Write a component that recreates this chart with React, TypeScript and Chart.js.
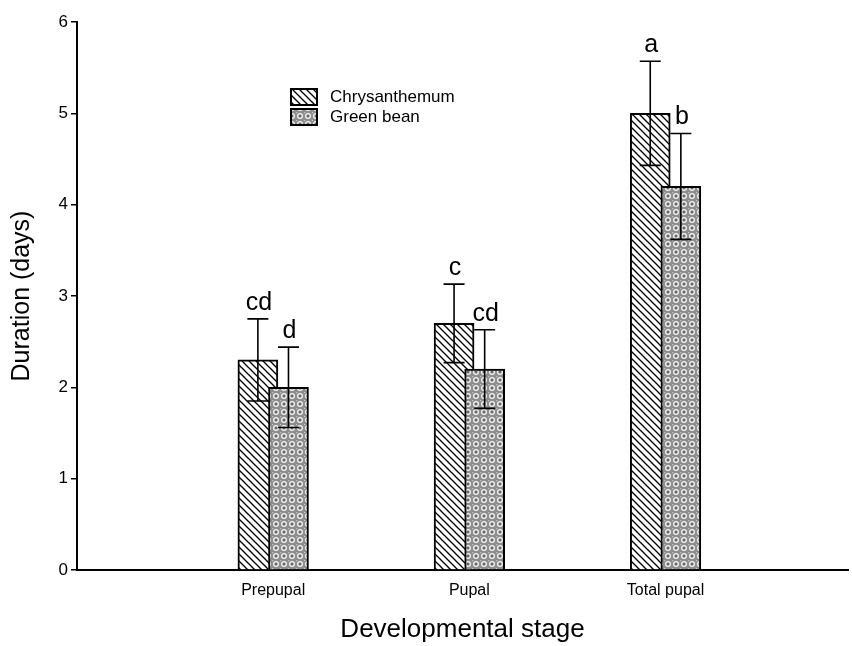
import React, { useEffect, useRef } from 'react';
import { Chart, registerables } from 'chart.js';

Chart.register(...registerables);

// Developmental stages and host-plant series (mean ± SD, in days)
const stages = ['Prepupal', 'Pupal', 'Total pupal'];
const seriesNames = ['Chrysanthemum', 'Green bean'];
const chrysMean = [2.3, 2.7, 5.0];
const chrysSD = [0.45, 0.43, 0.57];
const beanMean = [2.0, 2.2, 4.2];
const beanSD = [0.44, 0.43, 0.58];
const chrysLetters = ['cd', 'c', 'a'];
const beanLetters = ['d', 'cd', 'b'];
const yTicks = [0, 1, 2, 3, 4, 5, 6];

const FONT = '"Liberation Sans", Arial, Helvetica, sans-serif';
const OFFSET = 0.078; // half-spacing between the two overlapping bars, in category units

function hatchPattern(ctx: CanvasRenderingContext2D) {
  const s = 7;
  const c = document.createElement('canvas');
  c.width = s;
  c.height = s;
  const g = c.getContext('2d')!;
  g.fillStyle = '#ffffff';
  g.fillRect(0, 0, s, s);
  g.strokeStyle = '#000000';
  g.lineWidth = 1.3;
  for (const o of [-s, 0, s]) {
    g.beginPath();
    g.moveTo(o - 1, -1);
    g.lineTo(o + s + 1, s + 1);
    g.stroke();
  }
  return ctx.createPattern(c, 'repeat')!;
}

function dotPattern(ctx: CanvasRenderingContext2D) {
  const s = 8;
  const c = document.createElement('canvas');
  c.width = s;
  c.height = s;
  const g = c.getContext('2d')!;
  g.fillStyle = '#8e8e8e';
  g.fillRect(0, 0, s, s);
  g.strokeStyle = '#f2f2f2';
  g.lineWidth = 1.2;
  g.beginPath();
  g.arc(s / 2, s / 2, 2.4, 0, Math.PI * 2);
  g.stroke();
  g.fillStyle = '#4a4a4a';
  g.fillRect(s / 2 - 0.75, s / 2 - 0.75, 1.5, 1.5);
  g.fillStyle = '#cfcfcf';
  g.fillRect(0, 0, 1, 1);
  return ctx.createPattern(c, 'repeat')!;
}

export default function App() {
  const canvasRef = useRef<HTMLCanvasElement | null>(null);

  useEffect(() => {
    const canvas = canvasRef.current;
    if (!canvas) return;
    const ctx = canvas.getContext('2d')!;
    const hatch = hatchPattern(ctx);
    const dots = dotPattern(ctx);
    const fills = [hatch, dots];
    const sds = [chrysSD, beanSD];
    const means = [chrysMean, beanMean];
    const letters = [chrysLetters, beanLetters];

    const errorBars = {
      id: 'errorBars',
      afterDatasetsDraw(chart: any) {
        const c = chart.ctx as CanvasRenderingContext2D;
        const yScale = chart.scales.y;
        c.save();
        c.strokeStyle = '#000';
        c.lineWidth = 1.6;
        c.fillStyle = '#000';
        c.font = `25px ${FONT}`;
        c.textAlign = 'center';
        c.textBaseline = 'alphabetic';
        for (let d = 0; d < 2; d++) {
          const meta = chart.getDatasetMeta(d);
          meta.data.forEach((bar: any, i: number) => {
            const x = bar.x;
            const top = yScale.getPixelForValue(means[d][i] + sds[d][i]);
            const bot = yScale.getPixelForValue(means[d][i] - sds[d][i]);
            const cap = 10.5;
            c.beginPath();
            c.moveTo(x, top);
            c.lineTo(x, bot);
            c.moveTo(x - cap, top);
            c.lineTo(x + cap, top);
            c.moveTo(x - cap, bot);
            c.lineTo(x + cap, bot);
            c.stroke();
            c.fillText(letters[d][i], x + 1, top - 9);
          });
        }
        c.restore();
      },
      afterDraw(chart: any) {
        const c = chart.ctx as CanvasRenderingContext2D;
        c.save();
        const bx = 290;
        const rows = [88, 108];
        c.font = `17px ${FONT}`;
        c.textBaseline = 'middle';
        c.textAlign = 'left';
        rows.forEach((y, k) => {
          c.fillStyle = fills[k];
          c.fillRect(bx, y, 28, 18);
          c.strokeStyle = '#000';
          c.lineWidth = 2;
          c.strokeRect(bx + 1, y + 1, 26, 16);
          c.fillStyle = '#000';
          c.fillText(seriesNames[k], bx + 40, y + 9.5);
        });
        c.restore();
      },
    };

    const chart = new Chart(ctx, {
      type: 'bar',
      data: {
        datasets: [
          {
            label: seriesNames[0],
            data: stages.map((_, i) => ({ x: i + 1 - OFFSET, y: chrysMean[i] })),
            backgroundColor: hatch,
            borderColor: '#000',
            borderWidth: 2,
            barThickness: 40,
            grouped: false,
            order: 2,
          } as any,
          {
            label: seriesNames[1],
            data: stages.map((_, i) => ({ x: i + 1 + OFFSET, y: beanMean[i] })),
            backgroundColor: dots,
            borderColor: '#000',
            borderWidth: 2,
            barThickness: 40,
            grouped: false,
            order: 1,
          } as any,
        ],
      },
      options: {
        responsive: false,
        animation: false,
        layout: { padding: { top: 22, right: 4, left: 0, bottom: 0 } },
        plugins: {
          legend: { display: false },
          tooltip: { enabled: false },
        },
        scales: {
          x: {
            type: 'linear',
            offset: false,
            min: 0,
            max: 3.93,
            afterBuildTicks: (s: any) => {
              s.ticks = stages.map((_, i) => ({ value: i + 1 }));
            },
            afterFit: (s: any) => {
              s.height = 76;
            },
            ticks: {
              callback: (v: any) => stages[Number(v) - 1] ?? '',
              color: '#000',
              font: { family: FONT, size: 16 },
              padding: 11,
              maxRotation: 0,
              autoSkip: false,
            },
            grid: { display: true, drawOnChartArea: false, drawTicks: false, offset: false },
            border: { display: true, color: '#000', width: 2 },
            title: {
              display: true,
              text: 'Developmental stage',
              color: '#000',
              font: { family: FONT, size: 26 },
              padding: { top: 0, bottom: 1 },
            },
          },
          y: {
            min: 0,
            max: 6,
            afterBuildTicks: (s: any) => {
              s.ticks = yTicks.map((v) => ({ value: v }));
            },
            afterFit: (s: any) => {
              s.width = 77;
            },
            ticks: {
              color: '#000',
              font: { family: FONT, size: 17 },
              padding: 3,
            },
            grid: {
              display: true,
              drawOnChartArea: false,
              drawTicks: true,
              tickLength: 6,
              color: '#000',
              lineWidth: 1.5,
            },
            border: { display: true, color: '#000', width: 2 },
            title: {
              display: true,
              text: 'Duration (days)',
              color: '#000',
              font: { family: FONT, size: 25 },
              padding: { top: 7, bottom: 0 },
            },
          },
        },
      },
      plugins: [errorBars],
    });

    return () => chart.destroy();
  }, []);

  return (
    <div style={{ position: 'absolute', left: 0, top: 0, width: 852, height: 646, background: '#fff' }}>
      <canvas ref={canvasRef} width={852} height={646} style={{ display: 'block' }} />
    </div>
  );
}
